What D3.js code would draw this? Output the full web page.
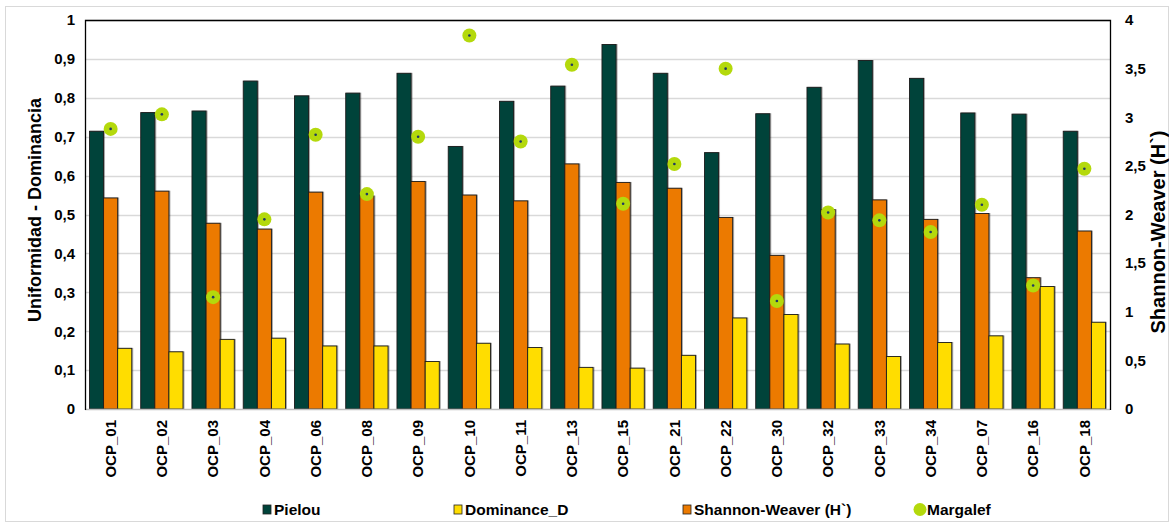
<!DOCTYPE html>
<html>
<head>
<meta charset="utf-8">
<script src="https://cdn.jsdelivr.net/npm/d3@7/dist/d3.min.js"></script>
<style>
  html, body { margin: 0; padding: 0; background: #fff; }
  svg { display: block; }
  text { font-family: "Liberation Sans", Arial, sans-serif; }
</style>
</head>
<body>
<svg id="chart" width="1169" height="525"></svg>
<script>
const categories = ["OCP_01","OCP_02","OCP_03","OCP_04","OCP_06","OCP_08","OCP_09","OCP_10","OCP_11","OCP_13",
                    "OCP_15","OCP_21","OCP_22","OCP_30","OCP_32","OCP_33","OCP_34","OCP_07","OCP_16","OCP_18"];
const pielou    = [0.714,0.762,0.766,0.843,0.805,0.812,0.863,0.675,0.791,0.830,0.937,0.863,0.659,0.759,0.827,0.896,0.850,0.761,0.758,0.714];
const shannon   = [2.17,2.24,1.91,1.85,2.23,2.19,2.34,2.20,2.14,2.52,2.33,2.27,1.97,1.58,2.05,2.15,1.95,2.01,1.35,1.83];
const dominance = [0.156,0.147,0.179,0.182,0.162,0.162,0.122,0.169,0.158,0.107,0.105,0.138,0.234,0.243,0.167,0.135,0.171,0.188,0.315,0.223];
const margalef  = [2.88,3.03,1.15,1.95,2.82,2.21,2.80,3.84,2.75,3.54,2.11,2.52,3.50,1.11,2.02,1.94,1.82,2.10,1.27,2.47];
const leftTicks  = [0,0.1,0.2,0.3,0.4,0.5,0.6,0.7,0.8,0.9,1];
const rightTicks = [0,0.5,1,1.5,2,2.5,3,3.5,4];
const seriesNames = ["Pielou","Dominance_D","Shannon-Weaver (H`)","Margalef"];

const colors = { pielou:"#00433A", shannon:"#EC7A00", dominance:"#FFDD00", margalef:"#B4D90C", dot:"#1F3864" };

const svg = d3.select("#chart");
const plot = { left: 85, right: 1110, top: 20, bottom: 409 };

const fmt = d => String(d).replace(".", ",");

// outer chart border
svg.append("rect").attr("x",5.5).attr("y",6.5).attr("width",1163).attr("height",515)
  .attr("fill","#fff").attr("stroke","#d9d9d9").attr("stroke-width",1);

const x = d3.scaleBand().domain(categories).range([plot.left, plot.right]).padding(0);
const yL = d3.scaleLinear().domain([0,1]).range([plot.bottom, plot.top]);
const yR = d3.scaleLinear().domain([0,4]).range([plot.bottom, plot.top]);

const barW = 14.1;
const groupOff = (x.bandwidth() - 3*barW)/2;

// gridlines
svg.append("g").selectAll("line").data(leftTicks.slice(1)).join("line")
  .attr("x1", plot.left).attr("x2", plot.right)
  .attr("y1", d => Math.round(yL(d)) + 0.5).attr("y2", d => Math.round(yL(d)) + 0.5)
  .attr("stroke", "#d9d9d9").attr("stroke-width", 1.5);

// bars
const g = svg.append("g");
const drawBars = (vals, scale, idx, color) => {
  g.append("g").selectAll("rect").data(vals).join("rect")
    .attr("x", (d,i) => x(categories[i]) + groupOff + idx*barW)
    .attr("y", d => scale(d))
    .attr("width", barW)
    .attr("height", d => plot.bottom - scale(d))
    .attr("fill", color)
    .attr("stroke", "#1b1b1b").attr("stroke-width", 0.9)
    .style("filter", "drop-shadow(1px 0px 0.5px rgba(0,0,0,0.35))");
};
drawBars(pielou, yL, 0, colors.pielou);
drawBars(shannon, yR, 1, colors.shannon);
drawBars(dominance, yL, 2, colors.dominance);

// Margalef markers
const mg = svg.append("g");
mg.selectAll("circle.m").data(margalef).join("circle").attr("class","m")
  .attr("cx", (d,i) => x(categories[i]) + x.bandwidth()/2)
  .attr("cy", d => yR(d)).attr("r", 7).attr("fill", colors.margalef);
mg.selectAll("circle.d").data(margalef).join("circle").attr("class","d")
  .attr("cx", (d,i) => x(categories[i]) + x.bandwidth()/2)
  .attr("cy", d => yR(d)).attr("r", 1.3).attr("fill", colors.dot);

// plot border: black top/left/right, grey bottom
svg.append("line").attr("x1",plot.left).attr("x2",plot.right).attr("y1",plot.bottom+0.5).attr("y2",plot.bottom+0.5)
  .attr("stroke","#bfbfbf").attr("stroke-width",1.5);
svg.append("path")
  .attr("d", `M${plot.left+0.5},${plot.bottom+1}V${plot.top+0.5}H${plot.right+0.5}V${plot.bottom+1}`)
  .attr("fill","none").attr("stroke","#000").attr("stroke-width",1.3);

// left axis
const axL = d3.axisLeft(yL).tickValues(leftTicks).tickFormat(fmt).tickSize(0).tickPadding(10);
const gL = svg.append("g").attr("transform",`translate(${plot.left},0)`).call(axL);
gL.select(".domain").remove();
gL.selectAll("text").attr("font-family","Liberation Sans, Arial, sans-serif")
  .attr("font-size",15).attr("font-weight","bold").attr("fill","#000");

// right axis
const axR = d3.axisRight(yR).tickValues(rightTicks).tickFormat(fmt).tickSize(0).tickPadding(15);
const gR = svg.append("g").attr("transform",`translate(${plot.right},0)`).call(axR);
gR.select(".domain").remove();
gR.selectAll("text").attr("font-family","Liberation Sans, Arial, sans-serif")
  .attr("font-size",15).attr("font-weight","bold").attr("fill","#000");

// bottom axis labels
const axB = d3.axisBottom(x).tickSize(0).tickPadding(0);
const gB = svg.append("g").attr("transform",`translate(0,${plot.bottom})`).call(axB);
gB.select(".domain").remove();
gB.selectAll("text")
  .attr("font-family","Liberation Sans, Arial, sans-serif")
  .attr("font-size",15).attr("font-weight","bold").attr("fill","#000")
  .attr("text-anchor","end").attr("dy","0.35em")
  .attr("transform","translate(0,11) rotate(-90)")
  .attr("y",0).attr("x",0);

// axis titles
svg.append("text").attr("transform","translate(41,210) rotate(-90)")
  .attr("text-anchor","middle").attr("font-size",18).attr("font-weight","bold")
  .text("Uniformidad - Dominancia");
svg.append("text").attr("transform","translate(1165,232) rotate(-90)")
  .attr("text-anchor","middle").attr("font-size",20).attr("font-weight","bold")
  .text("Shannon-Weaver (H`)");

// legend
const legendX = [263, 454, 683, 915];
const lg = svg.append("g").attr("font-size",15.5).attr("font-weight","bold");
const swatch = [colors.pielou, colors.dominance, colors.shannon];
seriesNames.forEach((name, i) => {
  const gx = legendX[i];
  if (i < 3) {
    lg.append("rect").attr("x", gx).attr("y", 505).attr("width", 8).attr("height", 9)
      .attr("fill", swatch[i]).attr("stroke","#222").attr("stroke-width",0.8);
  } else {
    lg.append("circle").attr("cx", gx+5).attr("cy", 509.5).attr("r", 6.5).attr("fill", colors.margalef);
  }
  lg.append("text").attr("x", gx + (i<3 ? 11 : 12)).attr("y", 515).text(name);
});
</script>
</body>
</html>
